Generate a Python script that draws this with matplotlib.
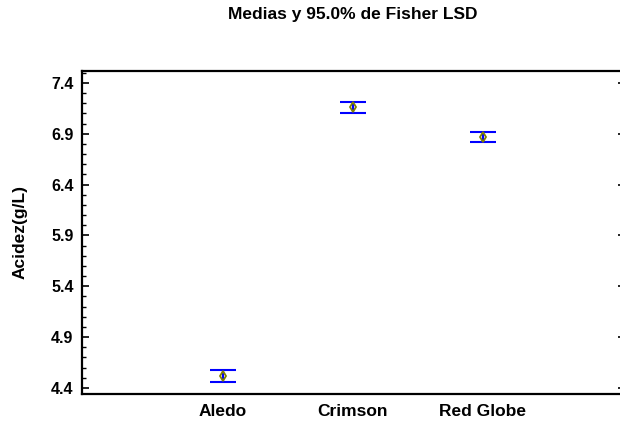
import matplotlib
matplotlib.use("Agg")
import matplotlib.pyplot as plt
from matplotlib.ticker import MultipleLocator, FixedLocator

categories = ["Aledo", "Crimson", "Red Globe"]
means = [4.519, 7.161, 6.866]
lsd_half = [0.062, 0.054, 0.051]
yticks = [4.4, 4.9, 5.4, 5.9, 6.4, 6.9, 7.4]

plt.rcParams['font.family'] = ['Liberation Sans', 'DejaVu Sans']
plt.rcParams['font.weight'] = 'bold'

fig = plt.figure(figsize=(6.2, 4.24), dpi=100)
ax = fig.add_axes([0.132, 0.0708, 0.868, 0.7618])

x = list(range(1, len(categories) + 1))
ax.errorbar(x, means, yerr=lsd_half, fmt='none', ecolor='#0000ff',
            elinewidth=1.5, capsize=9.5, capthick=1.5, zorder=2)
ax.plot(x, means, linestyle='none', marker='d', markersize=5.5,
        markerfacecolor='none', markeredgecolor='#808000',
        markeredgewidth=1.3, zorder=3)

ax.set_xlim(-0.085, 4.054)
ax.set_ylim(4.341, 7.518)
ax.set_xticks(x)
ax.set_xticklabels(categories, fontsize=12.5, fontweight='bold')
ax.yaxis.set_major_locator(FixedLocator(yticks))
ax.set_yticklabels([f"{v:.1f}" for v in yticks], fontsize=11.5, fontweight='bold')
ax.yaxis.set_minor_locator(MultipleLocator(0.1))

ax.tick_params(axis='x', which='both', length=0, pad=7)
ax.tick_params(axis='y', which='major', direction='in', length=5, width=1.2,
               pad=6, right=True)
ax.tick_params(axis='y', which='minor', direction='in', length=3, width=1.0,
               right=False)
for t in ax.yaxis.get_major_ticks():
    t.tick2line.set_markersize(1.5)

for s in ['left', 'top', 'bottom']:
    ax.spines[s].set_linewidth(1.6)
ax.spines['right'].set_visible(False)

ax.set_ylabel("Acidez(g/L)", fontsize=12.5, fontweight='bold', labelpad=17)

fig.text(0.569, 0.965, "Medias y 95.0% de Fisher LSD", ha='center', va='center',
         fontsize=12.5, fontweight='bold')

fig.savefig("out.png", dpi=100)
